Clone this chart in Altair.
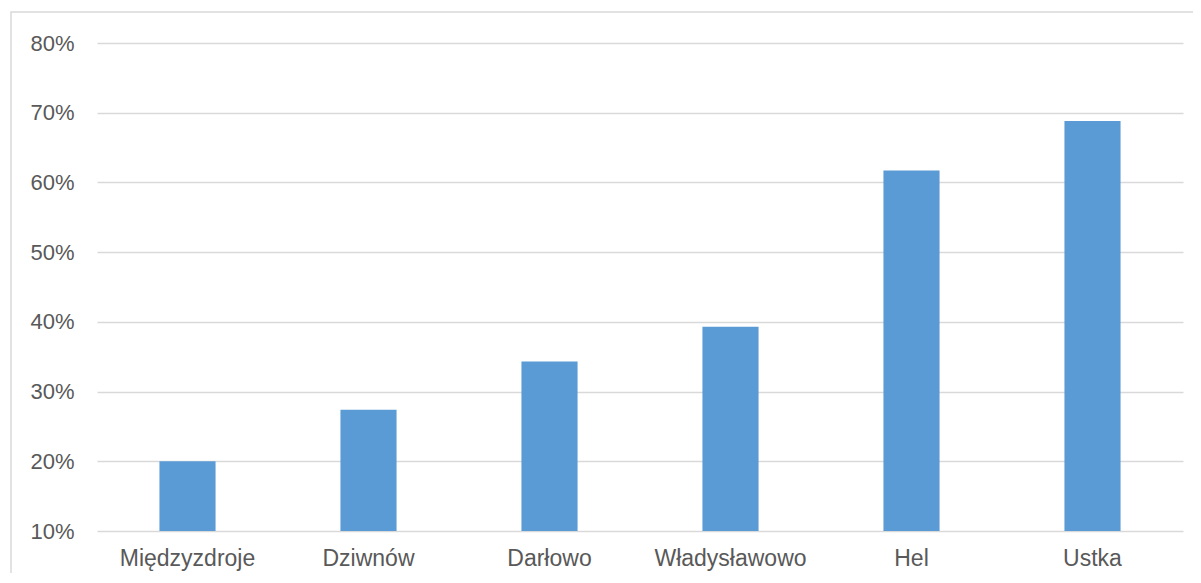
import altair as alt
import pandas as pd

cities = ["Międzyzdroje", "Dziwnów", "Darłowo", "Władysławowo", "Hel", "Ustka"]
shares = [0.200, 0.274, 0.343, 0.393, 0.617, 0.688]
y_ticks = [0.1, 0.2, 0.3, 0.4, 0.5, 0.6, 0.7, 0.8]

df = pd.DataFrame({"city": cities, "share": shares})

W, H = 1086, 488
FONT = "Liberation Sans"
TXT = "#595959"
GRID = "#d9d9d9"

bars = alt.Chart(df).mark_bar(color="#5b9bd5").encode(
    x=alt.X("city:N", sort=cities, title=None,
            scale=alt.Scale(paddingInner=0.69, paddingOuter=0.345),
            axis=alt.Axis(labelAngle=0, labelFont=FONT, labelFontSize=23,
                          labelColor=TXT, ticks=False, domain=False,
                          labelPadding=16, grid=False)),
    y=alt.Y("share:Q", title=None,
            scale=alt.Scale(domain=[0.1, 0.8], zero=False, nice=False),
            axis=alt.Axis(values=y_ticks, format=".0%", labelFont=FONT,
                          labelFontSize=22, labelColor=TXT, ticks=False,
                          domain=False, labelPadding=23, grid=True,
                          gridColor=GRID, gridWidth=1.3)),
    y2=alt.datum(0.1),
)

border = alt.Chart(df.head(1)).mark_rect(fill=None, stroke=GRID, strokeWidth=1.5).encode(
    x=alt.value(-86), x2=alt.value(W + 40),
    y=alt.value(-31), y2=alt.value(H + 80),
)

chart = alt.layer(border, bars).properties(
    width=W, height=H,
    autosize=alt.AutoSizeParams(type="none"),
    padding={"left": 89, "top": 35, "right": 10, "bottom": 42},
).configure(
    background="white",
    view=alt.ViewConfig(stroke="transparent", strokeWidth=0),
)

chart.save("out.html", embed_options={"renderer": "svg", "actions": False})
